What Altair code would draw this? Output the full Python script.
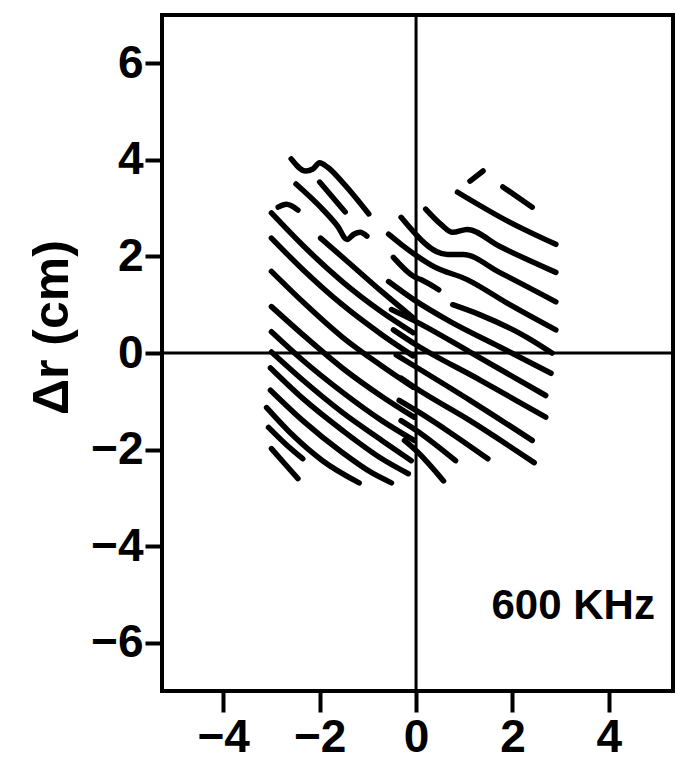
import altair as alt
import pandas as pd

# Short pieces at the top-left of the fringe pattern (x, y in cm)
top_fragments = [
    [(-2.59, 4.02), (-2.29, 3.77), (-2.14, 3.81), (-2.00, 3.94), (-1.84, 3.85), (-1.53, 3.54), (-0.98, 2.88)],
    [(-2.49, 3.50), (-2.00, 3.04), (-1.63, 2.63), (-1.43, 2.35), (-1.29, 2.46), (-1.16, 2.50), (-1.02, 2.42)],
    [(-2.00, 3.54), (-1.47, 2.92)],
    [(-2.86, 3.02), (-2.69, 3.08), (-2.45, 2.96)],
    [(-1.98, 2.38), (-1.43, 1.90), (-0.71, 1.27), (-0.06, 0.73)],
]

# Left group of fringes (x from about -3 to 0)
left_fringes = [
    [(-3.00, 2.90), (-2.35, 2.23), (-1.53, 1.48), (-0.71, 0.85), (-0.06, 0.42)],
    [(-3.00, 2.38), (-2.35, 1.73), (-1.53, 1.00), (-0.71, 0.38), (-0.06, -0.06)],
    [(-3.00, 1.69), (-2.35, 1.06), (-1.53, 0.33), (-0.71, -0.27), (-0.06, -0.71)],
    [(-3.00, 0.96), (-2.35, 0.38), (-1.53, -0.31), (-0.71, -0.90), (-0.04, -1.33)],
    [(-3.00, 0.44), (-2.35, -0.15), (-1.53, -0.81), (-0.71, -1.40), (-0.04, -1.81)],
    [(-3.00, 0.02), (-2.35, -0.56), (-1.53, -1.23), (-0.71, -1.81), (-0.10, -2.23)],
    [(-3.02, -0.31), (-2.35, -0.94), (-1.53, -1.60), (-0.71, -2.19), (-0.16, -2.50)],
    [(-3.02, -0.77), (-2.35, -1.40), (-1.53, -2.06), (-0.92, -2.48), (-0.51, -2.69)],
    [(-3.10, -1.13), (-2.55, -1.71), (-1.94, -2.23), (-1.18, -2.69)],
    [(-3.06, -1.54), (-2.69, -1.90), (-2.35, -2.19)],
    [(-3.00, -1.98), (-2.71, -2.31), (-2.45, -2.60)],
]

# Right group of fringes (x from about -0.5 to 3)
right_fringes = [
    [(1.12, 3.56), (1.39, 3.77)],
    [(1.80, 3.44), (2.41, 3.02)],
    [(0.86, 3.33), (1.94, 2.71), (2.90, 2.25)],
    [(0.20, 2.98), (0.51, 2.67), (0.76, 2.50), (1.06, 2.56), (1.73, 2.21), (2.90, 1.67)],
    [(-0.31, 2.81), (0.65, 2.04), (0.98, 2.04), (1.73, 1.67), (2.90, 1.06)],
    [(-0.57, 2.46), (-0.31, 2.25), (0.37, 1.79), (1.06, 1.52), (1.88, 1.04), (2.90, 0.48)],
    [(-0.47, 1.98), (-0.04, 1.58), (0.10, 1.52), (0.47, 1.31)],
    [(-0.57, 1.48), (-0.04, 1.10), (0.71, 0.65), (1.73, 0.13), (2.80, -0.42)],
    [(0.76, 1.00), (1.33, 0.79), (2.29, 0.33), (2.82, 0.00)],
    [(-0.51, 0.90), (0.00, 0.65), (1.12, 0.02), (2.69, -0.88)],
    [(-0.47, 0.48), (0.00, 0.17), (1.33, -0.56), (2.69, -1.33)],
    [(-0.41, -0.04), (0.00, -0.29), (1.12, -0.98), (2.41, -1.81)],
    [(-0.31, -0.52), (0.00, -0.73), (1.12, -1.40), (2.45, -2.27)],
    [(-0.35, -0.98), (0.00, -1.19), (0.71, -1.65), (1.49, -2.19)],
    [(-0.31, -1.40), (0.00, -1.60), (0.82, -2.23)],
    [(-0.24, -1.81), (0.00, -2.02), (0.57, -2.65)],
]

x_ticks = [-4, -2, 0, 2, 4]
y_ticks = [-6, -4, -2, 0, 2, 4, 6]
x_domain = [-5.27, 5.33]
y_domain = [-7, 7]
label_text = "600 KHz"
label_pos = (3.26, -5.24)

rows = []
lid = 0
for group in (top_fragments, left_fringes, right_fringes):
    for line in group:
        for i, (x, y) in enumerate(line):
            rows.append({"line": lid, "idx": i, "x": x, "y": y})
        lid += 1
df = pd.DataFrame(rows)
one = pd.DataFrame({"k": [0]})

FONT = "Liberation Sans"

xenc = alt.X(
    "x:Q",
    scale=alt.Scale(domain=x_domain, nice=False, zero=False),
    axis=alt.Axis(values=x_ticks, title=None, grid=False, domain=False,
                  tickSize=21, tickWidth=4, tickColor="black",
                  labelFont=FONT, labelFontWeight="bold", labelFontSize=46,
                  labelColor="black", labelPadding=3, labelBaseline="top"),
)
yenc = alt.Y(
    "y:Q",
    scale=alt.Scale(domain=y_domain, nice=False, zero=False),
    axis=alt.Axis(values=y_ticks, title="Δr (cm)", grid=False, domain=False,
                  tickSize=17, tickWidth=4, tickColor="black",
                  labelFont=FONT, labelFontWeight="bold", labelFontSize=46,
                  labelColor="black", labelPadding=2,
                  titleFont=FONT, titleFontWeight="bold", titleFontSize=50,
                  titleColor="black", titleAngle=270, titleX=-110, titleY=312,
                  titleAlign="center", titleBaseline="middle"),
)

lines = alt.Chart(df).mark_line(
    color="black", strokeWidth=5.5, strokeCap="round", strokeJoin="round",
    interpolate="monotone"
).encode(x=xenc, y=yenc, detail="line:N", order="idx:Q")

vrule = alt.Chart(one).mark_rule(color="black", strokeWidth=3).encode(
    x=alt.datum(0)
)
hrule = alt.Chart(one).mark_rule(color="black", strokeWidth=3).encode(
    y=alt.datum(0)
)
txt = alt.Chart(one).mark_text(
    font=FONT, fontWeight="bold", fontSize=42, color="black",
    align="center", baseline="middle"
).encode(
    x=alt.datum(label_pos[0]), y=alt.datum(label_pos[1]),
    text=alt.value(label_text)
)

chart = alt.layer(lines, vrule, hrule, txt).properties(
    width=511, height=676,
    background="white",
    autosize=alt.AutoSizeParams(type="none"),
    padding={"left": 162, "top": 15, "right": 4, "bottom": 74},
).configure_view(stroke="black", strokeWidth=4, strokeOpacity=1)

chart.save("out.html", embed_options={"renderer": "svg", "actions": False})
